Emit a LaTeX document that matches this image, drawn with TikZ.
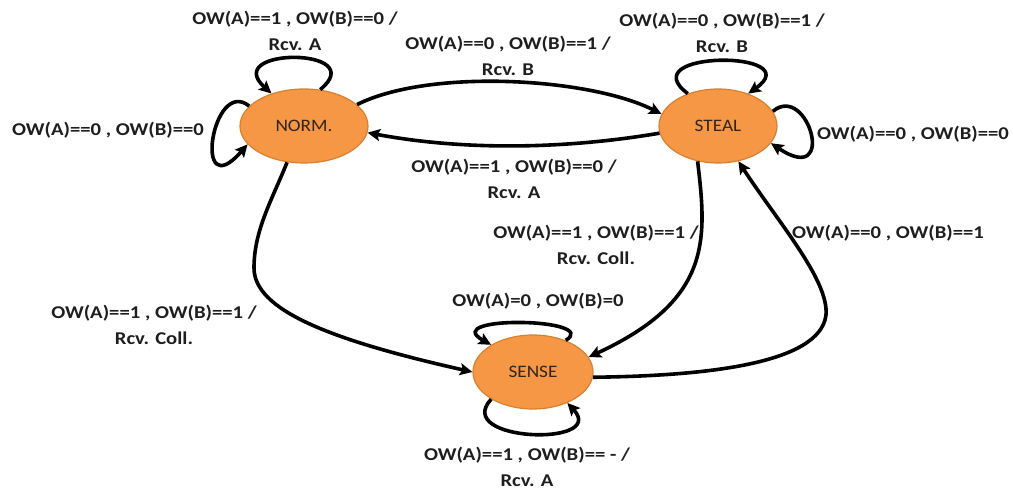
\documentclass[tikz,border=0pt]{standalone}
\usepackage{fontspec}
\setmainfont{Carlito}
\newfontfamily\lblfont[FakeStretch=1.15]{Carlito}
\newfontfamily\statefont[FakeStretch=1.1]{Carlito}
\usetikzlibrary{arrows.meta,shapes.geometric}
\definecolor{stfill}{HTML}{F59744}
\definecolor{stline}{HTML}{D9802E}
\definecolor{sttext}{HTML}{33241A}
\definecolor{lbltext}{HTML}{1E1E1E}
\tikzset{
  state/.style={ellipse, draw=stline, line width=1.2pt, fill=stfill,
    inner sep=0pt, text=sttext, font=\statefont\fontsize{17.5}{19}\selectfont},
  trans/.style={line width=3.6pt, black,
    -{Stealth[length=12.5pt,width=12pt,inset=2.5pt]}},
  lbl/.style={text=lbltext, font=\lblfont\bfseries\fontsize{18}{25.5}\selectfont,
    align=center, inner sep=0pt}
}
\begin{document}
\begin{tikzpicture}[x=1pt,y=-1pt]
\useasboundingbox (0,0) rectangle (1013,489);

% states
\node[state, minimum width=128pt, minimum height=74pt] (N) at (304,126) {NORM.};
\node[state, minimum width=118pt, minimum height=74pt] (S) at (718,126) {STEAL};
\node[state, minimum width=120pt, minimum height=74pt] (E) at (533,372) {SENSE};

% transitions between states
\draw[trans] (N.22) .. controls (430,68) and (590,78) .. (S.168);
\draw[trans] (S.187) .. controls (560,150) and (460,150) .. (N.354);
\draw[trans] (N.245) .. controls (272,200) and (254,230) .. (254,268)
  .. controls (254,310) and (330,340) .. (E.180);
\draw[trans] (S.240) .. controls (707,240) and (712,300) .. (E.15);
\draw[trans] (E.355) .. controls (700,376) and (820,365) .. (826,315)
  .. controls (829,280) and (778,222) .. (S.300);

% self loops
\draw[trans] (N.66) .. controls (372,47) and (220,47) .. (N.135);
\draw[trans] (N.160) .. controls (212,76) and (192,208) .. (N.198);
\draw[trans] (S.133) .. controls (630,50) and (810,50) .. (S.47);
\draw[trans] (S.15) .. controls (808,82) and (838,188) .. (S.-18);
\draw[trans] (E.44) .. controls (602,318) and (438,315) .. (E.147);
\draw[trans] (E.213) .. controls (452,442) and (608,447) .. (E.318);

% transition labels
\node[lbl] (lNN) at (295,31) {OW(A)==1 , OW(B)==0 /\\Rcv. A};
\node[lbl] (lNL) at (108,130) {OW(A)==0 , OW(B)==0};
\node[lbl] (lNS) at (508,56) {OW(A)==0 , OW(B)==1 /\\Rcv. B};
\node[lbl] (lSS) at (722,33) {OW(A)==0 , OW(B)==1 /\\Rcv. B};
\node[lbl] (lSR) at (913,134) {OW(A)==0 , OW(B)==0};
\node[lbl] (lSN) at (514,179) {OW(A)==1 , OW(B)==0 /\\Rcv. A};
\node[lbl] (lSE) at (596,245) {OW(A)==1 , OW(B)==1 /\\Rcv. Coll.};
\node[lbl] (lES) at (888,233) {OW(A)==0 , OW(B)==1};
\node[lbl] (lNE) at (154,325) {OW(A)==1 , OW(B)==1 /\\Rcv. Coll.};
\node[lbl] (lEE) at (538,301) {OW(A)=0 , OW(B)=0};
\node[lbl] (lEB) at (527,467) {OW(A)==1 , OW(B)== - /\\Rcv. A};
\end{tikzpicture}
\end{document}
